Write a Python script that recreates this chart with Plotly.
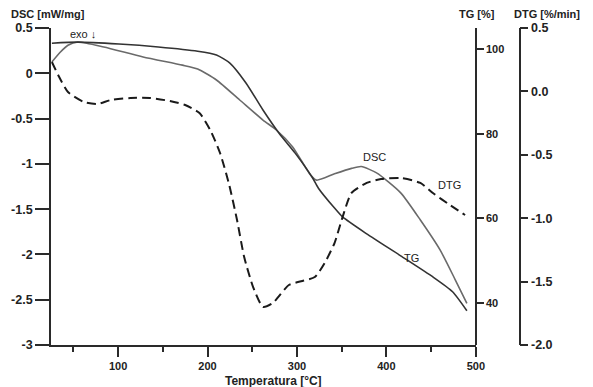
import plotly.graph_objects as go

# ---- data ----
dsc_temp = [26, 35, 44, 55, 84, 128, 172, 189, 210, 236, 262, 277, 295, 315, 322,
            342, 361, 372, 389, 416, 438, 460, 477, 490]
dsc_vals = [0.125, 0.23, 0.31, 0.345, 0.29, 0.18, 0.09, 0.047, -0.074, -0.295, -0.516,
            -0.626, -0.81, -1.12, -1.18, -1.11, -1.05, -1.03, -1.10, -1.32, -1.62,
            -1.95, -2.28, -2.54]

tg_temp = [26, 55, 101, 145, 189, 210, 225, 243, 262, 280, 298, 317, 324, 342, 351,
           378, 416, 452, 474, 490]
tg_vals = [101.4, 101.65, 101.2, 100.5, 99.5, 98.6, 96.7, 92.0, 85.6, 80.1, 75.4, 69.7,
           67.1, 62.4, 60.3, 56.3, 51.1, 46.1, 42.6, 38.1]

dtg_temp = [26, 33, 44, 62, 77, 92, 114, 136, 158, 175, 191, 203, 214, 224, 233, 241,
            251, 262, 273, 291, 306, 320, 331, 342, 351, 361, 378, 394, 416, 438, 452,
            471, 488]
dtg_vals = [0.232, 0.129, -0.005, -0.084, -0.099, -0.068, -0.052, -0.052, -0.076, -0.107,
            -0.170, -0.304, -0.486, -0.730, -1.014, -1.306, -1.543, -1.700, -1.669,
            -1.527, -1.495, -1.464, -1.353, -1.196, -0.991, -0.801, -0.722, -0.691,
            -0.683, -0.722, -0.801, -0.896, -0.975]

x_ticks = [100, 200, 300, 400, 500]
x_minor = [50, 150, 250, 350, 450]
dsc_ticks = [0.5, 0, -0.5, -1, -1.5, -2, -2.5, -3]
dsc_labels = ["0.5", "0", "-0.5", "-1", "-1.5", "-2", "-2.5", "-3"]
tg_ticks = [40, 60, 80, 100]
tg_labels = ["40", "60", "80", "100"]
dtg_ticks = [0.5, 0.0, -0.5, -1.0, -1.5, -2.0]
dtg_labels = ["0.5", "0.0", "-0.5", "-1.0", "-1.5", "-2.0"]

FONT = "Liberation Sans"
AX = "#2a2a2a"

fig = go.Figure()
fig.add_trace(go.Scatter(x=tg_temp, y=tg_vals, yaxis="y2", mode="lines",
                         line=dict(color="#333333", width=1.6, shape="spline", smoothing=0.6)))
fig.add_trace(go.Scatter(x=dsc_temp, y=dsc_vals, yaxis="y", mode="lines",
                         line=dict(color="#6a6a6a", width=1.6, shape="spline", smoothing=0.6)))
fig.add_trace(go.Scatter(x=dtg_temp, y=dtg_vals, yaxis="y3", mode="lines",
                         line=dict(color="#1a1a1a", width=2, dash="9px,5px",
                                   shape="spline", smoothing=0.6)))

tickfont = dict(family=FONT, size=11, color="#222222", weight="bold")
tickfont_big = dict(family=FONT, size=12.5, color="#222222", weight="bold")
dom_end = (483 - 51) / 542

fig.update_layout(
    width=593, height=387,
    margin=dict(l=51, r=0, t=28, b=42),
    paper_bgcolor="white", plot_bgcolor="white",
    showlegend=False,
    xaxis=dict(domain=[0, dom_end], range=[25, 500], showgrid=False, zeroline=False,
               showline=True, linecolor=AX, linewidth=1.8,
               tickmode="array", tickvals=x_ticks, ticks="outside", ticklen=10,
               tickwidth=1.6, tickcolor=AX, tickfont=tickfont,
               minor=dict(tickmode="array", tickvals=x_minor, ticks="outside",
                          ticklen=5, tickwidth=1.6, tickcolor=AX, showgrid=False)),
    yaxis=dict(range=[-3, 0.5], showgrid=False, zeroline=False, showline=True,
               linecolor=AX, linewidth=1.8, tickmode="array", tickvals=dsc_ticks,
               ticktext=dsc_labels, ticks="outside", ticklen=14, tickwidth=1.6,
               tickcolor=AX, tickfont=tickfont_big),
    yaxis2=dict(range=[30, 105], overlaying="y", side="right", anchor="free",
                position=dom_end, showgrid=False, zeroline=False, showline=True,
                linecolor=AX, linewidth=1.8, tickmode="array", tickvals=tg_ticks,
                ticktext=tg_labels, ticks="outside", ticklen=7, tickwidth=1.6,
                tickcolor=AX, tickfont=tickfont),
    yaxis3=dict(range=[-2.0, 0.5], overlaying="y", side="right", anchor="free",
                position=(527.5 - 51) / 542, showgrid=False, zeroline=False,
                showline=True, linecolor=AX, linewidth=1.8, tickmode="array",
                tickvals=dtg_ticks, ticktext=dtg_labels, ticks="outside", ticklen=8,
                tickwidth=1.6, tickcolor=AX, tickfont=tickfont_big),
)

titlefont = dict(family=FONT, size=11, color="#222222", weight="bold")
labfont = dict(family=FONT, size=11, color="#222222")


def px_x(p):
    return (p - 51) / 542


def px_y(p):
    return (345 - p) / 317


annots = [
    dict(text="DSC [mW/mg]", x=px_x(8), y=px_y(14), xanchor="left", font=titlefont),
    dict(text="TG [%]", x=px_x(484), y=px_y(14), xanchor="center", font=titlefont),
    dict(text="DTG [%/min]", x=px_x(591), y=px_y(14), xanchor="right", font=titlefont),
    dict(text="Temperatura [°C]", x=px_x(277), y=px_y(381), xanchor="center",
         font=dict(family=FONT, size=12, color="#222222", weight="bold")),
]
for a in annots:
    fig.add_annotation(xref="paper", yref="paper", showarrow=False, yanchor="middle", **a)

curve_labels = [("exo ↓", 61.3, 0.434), ("DSC", 386.5, -0.924),
                ("DTG", 470.6, -1.233), ("TG", 428, -2.04)]
for txt, tx, ty in curve_labels:
    fig.add_annotation(xref="x", yref="y", x=tx, y=ty, text=txt, showarrow=False,
                       font=labfont)

fig.write_html("out.html", config={"displayModeBar": False},
               post_script="document.body.style.margin='0';document.body.style.overflow='hidden';")
